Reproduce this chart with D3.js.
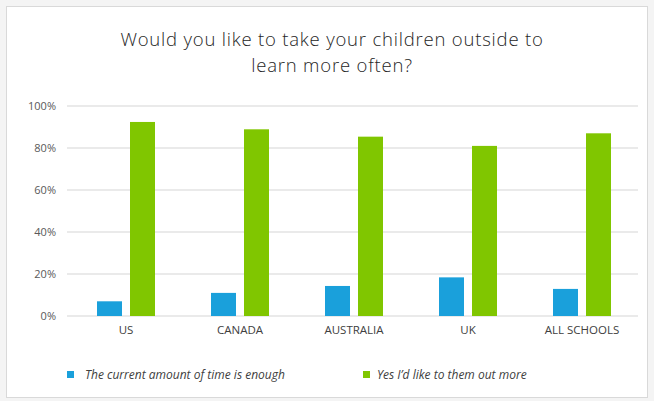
<!DOCTYPE html>
<html><head><meta charset="utf-8">
<script src="https://cdn.jsdelivr.net/npm/d3@7"></script>
<style>html,body{margin:0;padding:0;background:#fff;}</style>
</head><body>
<svg id="chart" width="654" height="401"></svg>
<script>
const categories = ["US", "CANADA", "AUSTRALIA", "UK", "ALL SCHOOLS"];
const seriesNames = ["The current amount of time is enough", "Yes I\u2019d like to them out more"];
const enoughValues = [7, 11, 14.3, 18.4, 12.9];
const moreValues = [92.4, 88.9, 85.4, 81, 87];
const yTicks = [0, 20, 40, 60, 80, 100];
const titleLines = ["Would you like to take your children outside to", "learn more often?"];
const colors = ["#1AA0DB", "#80C600"];

const svg = d3.select("#chart");
const font = "'Open Sans', 'Segoe UI', sans-serif";

svg.append("rect").attr("x", 0).attr("y", 0).attr("width", 654).attr("height", 401).attr("fill", "#f4f4f4");
svg.append("rect").attr("x", 6.5).attr("y", 6.5).attr("width", 641).attr("height", 391)
  .attr("fill", "#fff").attr("stroke", "#d9d9d9").attr("stroke-width", 1);

svg.append("g").selectAll("text").data(titleLines).join("text")
  .attr("x", 332).attr("y", (d, i) => 46 + i * 26)
  .attr("text-anchor", "middle").attr("font-family", font).attr("font-weight", 300)
  .attr("font-size", 18.5).attr("letter-spacing", 0.8).attr("fill", "#262626").text(d => d);

const y = d3.scaleLinear().domain([0, 100]).range([316, 106]);
const x0 = d3.scaleBand().domain(categories).range([69, 639]);
const x1 = d3.scaleBand().domain([0, 1]).range([28, 86]).paddingInner(8 / 33);

// gridlines
svg.append("g").selectAll("line").data(yTicks).join("line")
  .attr("x1", 67).attr("x2", 638)
  .attr("y1", d => y(d)).attr("y2", d => y(d))
  .attr("stroke", "#e3e3e3").attr("stroke-width", 1.5);

// y axis labels
const yAxis = d3.axisLeft(y).tickValues(yTicks).tickFormat(d => d + "%").tickSize(0).tickPadding(0);
const ya = svg.append("g").attr("transform", "translate(56,0)").call(yAxis);
ya.select(".domain").remove();
ya.selectAll("text").attr("font-family", font).attr("font-size", 11).attr("fill", "#595959");

// x axis labels
const xAxis = d3.axisBottom(x0).tickSize(0).tickPadding(0);
const xa = svg.append("g").attr("transform", "translate(0,326)").call(xAxis);
xa.select(".domain").remove();
xa.selectAll("text").attr("font-family", font).attr("font-size", 11.5).attr("fill", "#404040");

const data = categories.map((c, i) => ({cat: c, vals: [enoughValues[i], moreValues[i]]}));
const groups = svg.append("g").selectAll("g").data(data).join("g")
  .attr("transform", d => `translate(${x0(d.cat)},0)`);
groups.selectAll("rect").data(d => d.vals.map((v, k) => ({k, v}))).join("rect")
  .attr("x", d => x1(d.k)).attr("width", x1.bandwidth())
  .attr("y", d => y(d.v)).attr("height", d => y(0) - y(d.v))
  .attr("fill", d => colors[d.k]);

// legend
const legendX = [67, 363];
const lg = svg.append("g").selectAll("g").data(seriesNames).join("g")
  .attr("transform", (d, i) => `translate(${legendX[i]},371)`);
lg.append("rect").attr("width", 7).attr("height", 7).attr("fill", (d, i) => colors[i]);
lg.append("text").attr("x", (d, i) => i === 0 ? 18 : 14).attr("y", 8)
  .attr("font-family", font).attr("font-style", "italic").attr("font-size", 12)
  .attr("fill", "#404040").text(d => d);
</script>
</body></html>
